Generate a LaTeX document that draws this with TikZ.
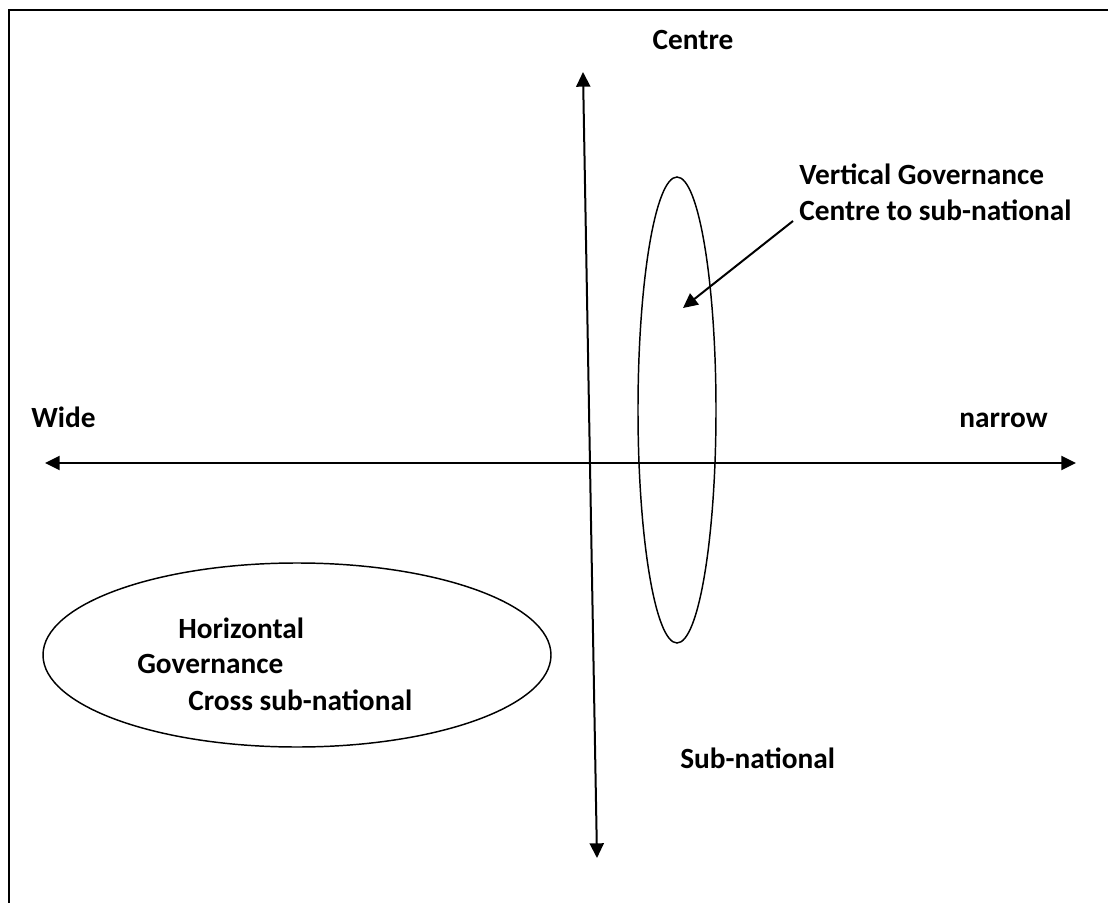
\documentclass[tikz,border=0pt]{standalone}
\usepackage{fontspec}
\setmainfont{Carlito}
\usetikzlibrary{arrows.meta, positioning, shapes.geometric}

\begin{document}
\begin{tikzpicture}[x=0.75pt, y=-0.75pt]
\tikzset{
    axis/.style={line width=1.5pt, {Triangle[length=11pt,width=10.5pt]}-{Triangle[length=11pt,width=10.5pt]}},
    pointer/.style={line width=1.5pt, -{Triangle[length=11pt,width=10.5pt]}},
    lbl/.style={font=\fontsize{22}{26.4}\selectfont\bfseries, inner sep=0pt, align=left},
    ring/.style={draw, line width=1.1pt, ellipse, inner sep=0pt}
}
\useasboundingbox (0,0) rectangle (1108,903);
\draw[line width=1.1pt] (9,10) rectangle (1140,940);

% axes
\coordinate (wide end) at (45,463);
\coordinate (narrow end) at (1076,463);
\coordinate (centre end) at (583,72);
\coordinate (sub end) at (597,858);
\draw[axis] (wide end) -- (narrow end);
\draw[axis] (centre end) -- (sub end);

\node[lbl, anchor=base] (centre) at (693,49) {Centre};
\node[lbl, anchor=base west] (wide) at (31,427) {Wide};
\node[lbl, anchor=base east] (narrow) at (1048,427) {narrow};
\node[lbl, anchor=base west] (subnational) at (680,768) {Sub-national};

% vertical governance
\node[ring, minimum width=58.5pt, minimum height=349.5pt] (vertical) at (677,410) {};
\node[lbl, anchor=base west] (vlabel) at (799,220) {Vertical Governance\\Centre to sub-national};
\coordinate (vtarget) at (683,308);
\draw[pointer] (793,221) -- (vtarget);

% horizontal governance
\node[ring, minimum width=381pt, minimum height=138pt] (horizontal) at (297,655) {};
\node[lbl, anchor=base west] (hline1) at (178,638) {Horizontal};
\node[lbl, anchor=base west] (hline2) at (137,673) {Governance};
\node[lbl, anchor=base west] (hline3) at (188,710) {Cross sub-national};
\end{tikzpicture}
\end{document}
